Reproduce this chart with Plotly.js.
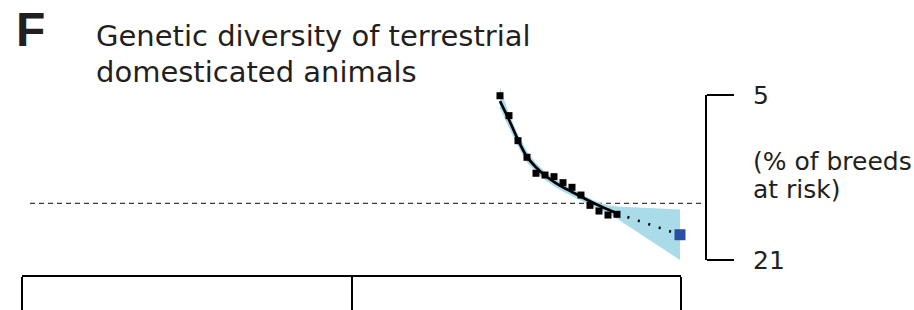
<!DOCTYPE html>
<html>
<head>
<meta charset="utf-8">
<script src="https://cdn.plot.ly/plotly-3.0.1.min.js"></script>
<style>
  html, body { margin: 0; padding: 0; background: #ffffff; }
  #chart { width: 914px; height: 310px; }
</style>
</head>
<body>
<div id="chart"></div>
<script>
// ---- data ----
const panelLetter = 'F';
const titleLines = ['Genetic diversity of terrestrial', 'domesticated animals'];
const unitLines = ['(% of breeds', 'at risk)'];

const years = [2000, 2001, 2002, 2003, 2004, 2005, 2006, 2007, 2008, 2009, 2010, 2011, 2012, 2013];
const breedsAtRisk = [5.07, 7.0, 9.43, 11.04, 12.59, 12.76, 12.92, 13.5, 13.95, 14.7, 15.7, 16.25, 16.64, 16.57];
const fittedTrend = [5.6, 7.4, 9.35, 11.0, 12.0, 12.8, 13.42, 13.95, 14.4, 14.86, 15.3, 15.72, 16.1, 16.45];

const bandYears = [2000, 2001, 2002, 2003, 2004, 2005, 2006, 2007, 2008, 2009, 2010, 2011, 2012, 2013, 2020];
const bandLower = [4.3, 6.8, 8.8, 10.45, 11.6, 12.45, 13.1, 13.65, 14.15, 14.6, 15.05, 15.45, 15.7, 15.82, 16.1];
const bandUpper = [6.3, 8.1, 10.0, 11.55, 12.5, 13.25, 13.85, 14.35, 14.8, 15.25, 15.7, 16.1, 16.5, 17.0, 21.0];

const projectionYears = [2013, 2020];
const projectionValues = [16.5, 18.55];

const targetYears = [2020];
const targetValues = [18.55];

const referenceLevel = 15.5;

const scaleTickValues = [5, 21];
const scaleTickLabels = ['5', '21'];

const timeTickValues = [0, 1, 2];

// ---- layout helpers (plot area: x 22..706, y 80..276 px) ----
const L = 22, R = 706, T = 80, B = 276;
const px = v => (v - L) / (R - L);
const py = v => (B - v) / (B - T);

const textFont = 'DejaVu Sans, Verdana, sans-serif';
const ink = '#231f20';

const traces = [
  { x: bandYears, y: bandLower, type: 'scatter', mode: 'lines',
    line: { width: 0, color: 'rgba(0,0,0,0)' }, hoverinfo: 'skip', showlegend: false },
  { x: bandYears, y: bandUpper, type: 'scatter', mode: 'lines', fill: 'tonexty',
    fillcolor: '#a9dbe8', line: { width: 0, color: 'rgba(0,0,0,0)' }, hoverinfo: 'skip', showlegend: false },
  { x: years, y: fittedTrend, type: 'scatter', mode: 'lines',
    line: { color: '#000000', width: 2.7, shape: 'spline', smoothing: 0.8 }, showlegend: false },
  { x: years, y: breedsAtRisk, type: 'scatter', mode: 'markers', cliponaxis: false,
    marker: { symbol: 'square', size: 7, color: '#000000' }, showlegend: false },
  { x: projectionYears, y: projectionValues, type: 'scatter', mode: 'lines',
    line: { color: '#000000', width: 2.7, dash: '2px,9px' }, showlegend: false },
  { x: targetYears, y: targetValues, type: 'scatter', mode: 'markers', cliponaxis: false,
    marker: { symbol: 'square', size: 11, color: '#2b4ea6' }, showlegend: false },
  // carrier for the bracket axes
  { x: [], y: [], xaxis: 'x2', yaxis: 'y2', type: 'scatter', mode: 'markers', showlegend: false }
];

const layout = {
  width: 914, height: 310,
  margin: { l: L, r: 914 - R, t: T, b: 310 - B, pad: 0 },
  paper_bgcolor: '#ffffff', plot_bgcolor: 'rgba(0,0,0,0)',
  showlegend: false,
  font: { family: textFont, color: ink },
  xaxis: { range: [1946.89, 2022.89], visible: false, fixedrange: true },
  yaxis: { range: [22.5515, 3.5455], visible: false, fixedrange: true },
  xaxis2: {
    domain: [0, px(681)], range: [0, 2], anchor: 'free', position: 0,
    showline: true, linecolor: '#000000', linewidth: 2,
    ticks: 'outside', ticklen: 33, tickwidth: 2, tickcolor: '#000000',
    tickmode: 'array', tickvals: timeTickValues, showticklabels: false,
    showgrid: false, zeroline: false, fixedrange: true
  },
  yaxis2: {
    domain: [py(260), py(95)], range: [21, 5], anchor: 'free', position: 1, side: 'right',
    showline: true, linecolor: '#000000', linewidth: 2,
    ticks: 'outside', ticklen: 27, tickwidth: 2, tickcolor: '#000000',
    ticklabelstandoff: 14,
    tickmode: 'array', tickvals: scaleTickValues, ticktext: scaleTickLabels,
    tickfont: { family: textFont, size: 25, color: ink },
    showgrid: false, zeroline: false, fixedrange: true
  },
  shapes: [
    { type: 'line', xref: 'paper', yref: 'y', x0: px(30), x1: px(705), y0: referenceLevel, y1: referenceLevel,
      line: { color: '#3a3a3a', width: 1.3, dash: '5px,4px' }, layer: 'below' }
  ],
  annotations: [
    { text: '<b>' + panelLetter + '</b>', xref: 'paper', yref: 'paper', x: px(14), y: py(29),
      xanchor: 'left', yanchor: 'middle', showarrow: false,
      font: { family: 'Liberation Sans, Arial, sans-serif', size: 48, color: ink } },
    { text: titleLines[0], xref: 'paper', yref: 'paper', x: px(94), y: py(36),
      xanchor: 'left', yanchor: 'middle', showarrow: false,
      font: { family: textFont, size: 29, color: ink } },
    { text: titleLines[1], xref: 'paper', yref: 'paper', x: px(94), y: py(72),
      xanchor: 'left', yanchor: 'middle', showarrow: false,
      font: { family: textFont, size: 29, color: ink } },
    { text: unitLines[0], xref: 'paper', yref: 'paper', x: px(751), y: py(161),
      xanchor: 'left', yanchor: 'middle', showarrow: false,
      font: { family: textFont, size: 25, color: ink } },
    { text: unitLines[1], xref: 'paper', yref: 'paper', x: px(751), y: py(189),
      xanchor: 'left', yanchor: 'middle', showarrow: false,
      font: { family: textFont, size: 25, color: ink } }
  ]
};

Plotly.newPlot('chart', traces, layout, { staticPlot: true, displayModeBar: false });
</script>
</body>
</html>
